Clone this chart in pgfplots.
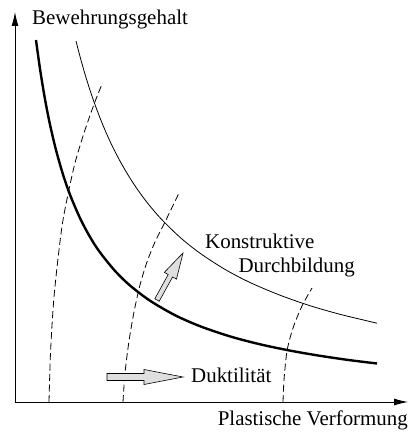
\documentclass[border=0pt]{standalone}
\usepackage{pgfplots}
\pgfplotsset{compat=1.18}
\usetikzlibrary{arrows.meta}
\usepackage{fontspec}
\setmainfont{Liberation Serif}
\begin{document}
\fontsize{21}{25}\selectfont
\begin{tikzpicture}
\begin{axis}[
  x=1bp, y=1bp,
  xmin=15, xmax=408, ymin=31, ymax=421,
  enlargelimits=false,
  axis lines=left,
  axis line style={line width=0.9bp, -{Latex[length=14bp,width=7bp]}},
  xtick=\empty, ytick=\empty,
  clip=false,
]
% thick curve
\addplot[black, line width=2.4bp, smooth, tension=0.5] coordinates {
 (36,393.0) (40,364.1) (45,333.7) (50,308.4) (56,283.0) (63,258.5) (70,238.3) (80,214.9)
 (90,196.0) (100,180.6) (115,162.1) (130,147.5) (150,132.3) (175,117.8) (200,106.8)
 (230,96.6) (260,88.7) (290,82.4) (320,77.2) (350,72.8) (377,69.5)};
% thin curve
\addplot[black, line width=0.8bp, smooth, tension=0.5] coordinates {
 (76,392.0) (80,376.5) (85,358.8) (90,342.8) (95,328.3) (102,310.1) (110,291.7) (120,271.9)
 (132,251.7) (145,233.2) (160,215.3) (180,195.7) (200,179.8) (225,163.6) (250,150.5)
 (280,137.8) (310,127.3) (340,118.7) (377,109.8)};
% dashed curves
\addplot[black, line width=0.8bp, dash pattern=on 7bp off 3.5bp, smooth, tension=0.5] coordinates {
 (49,31) (50.5,80) (53.5,130) (57.5,170) (62.5,210) (68.5,241) (75,270) (84,300) (94.5,330) (102.5,350)};
\addplot[black, line width=0.8bp, dash pattern=on 7bp off 3.5bp, smooth, tension=0.5] coordinates {
 (123,31) (125,60) (129,92) (134,121) (140,148) (147,171) (155,191) (165,211) (179,240)};
\addplot[black, line width=0.8bp, dash pattern=on 7bp off 3.5bp, smooth, tension=0.5] coordinates {
 (283,31) (284,53) (287,82) (293,105) (302,127) (312,145)};
% block arrows
\addplot[draw=black, line width=0.6bp, fill=gray!25] coordinates {
 (107,52.5) (144,52.5) (144,48.5) (183,56) (144,63.5) (144,59.5) (107,59.5)} -- cycle;
\addplot[draw=black, line width=0.6bp, fill=gray!25] coordinates {
 (154.8,134.2) (168.2,158.5) (164.3,160.6) (183,180) (176.5,153.9) (172.6,156.0) (159.2,131.8)} -- cycle;
% labels
\node[anchor=base west, inner sep=0] at (axis cs:32,408) {Bewehrungsgehalt};
\node[anchor=base east, inner sep=0] at (axis cs:408,7) {Plastische Verformung};
\node[anchor=base west, inner sep=0] at (axis cs:205,184) {Konstruktive};
\node[anchor=base east, inner sep=0] at (axis cs:355,160) {Durchbildung};
\node[anchor=base west, inner sep=0] at (axis cs:191,50) {Duktilität};
\coordinate (bl) at (axis cs:0,0);
\coordinate (tr) at (axis cs:410,433);
\end{axis}
\pgfresetboundingbox
\useasboundingbox (bl) rectangle (tr);
\end{tikzpicture}
\end{document}
